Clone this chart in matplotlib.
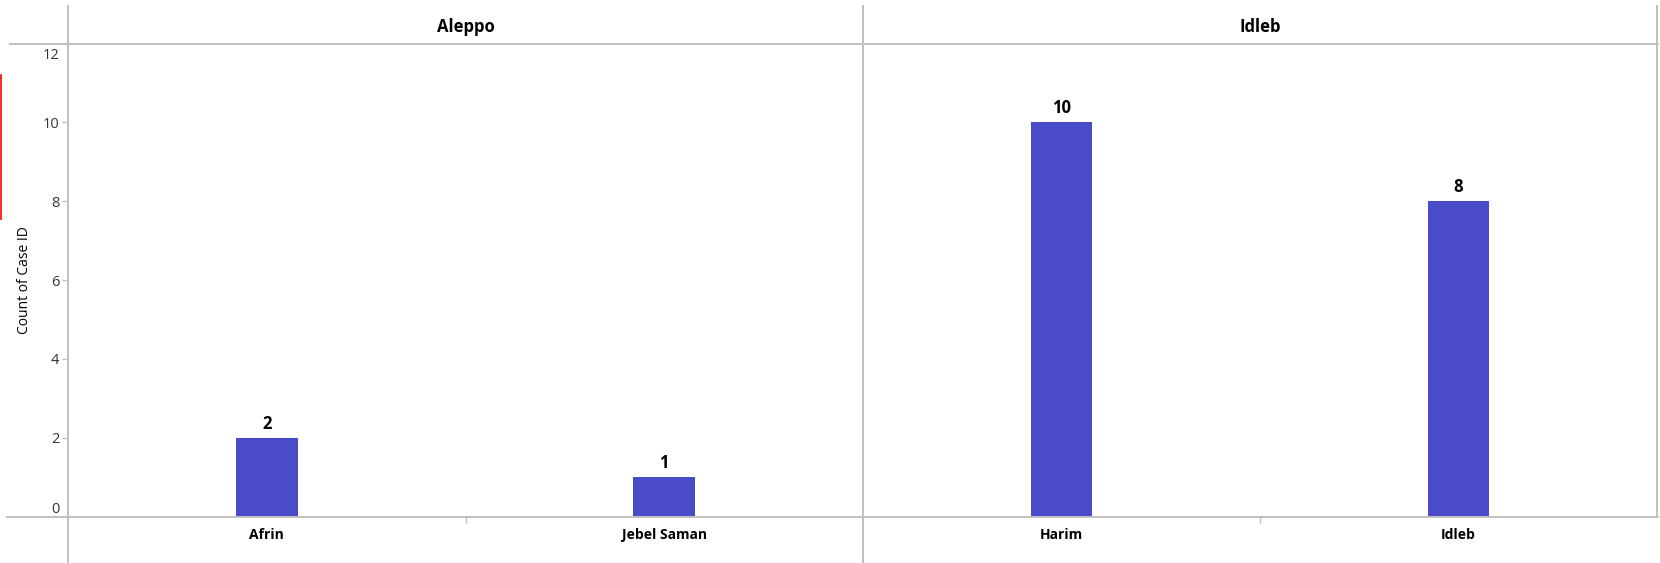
import matplotlib
matplotlib.use("Agg")
import matplotlib.pyplot as plt
from matplotlib.lines import Line2D

plt.rcParams['font.family'] = ['Open Sans', 'DejaVu Sans']

# ---- data ----
regions = ["Aleppo", "Idleb"]
districts = {
    "Aleppo": ["Afrin", "Jebel Saman"],
    "Idleb": ["Harim", "Idleb"],
}
counts = {
    "Aleppo": [2, 1],
    "Idleb": [10, 8],
}
y_ticks = [0, 2, 4, 6, 8, 10, 12]
y_label = "Count of Case ID"

bar_color = "#4A4BC8"
line_color = "#C0C0C0"
W, H = 1660, 563
fig = plt.figure(figsize=(W / 100, H / 100), dpi=100)

def fx(px):
    return px / W

def fy(py):
    return 1 - py / H

left, mid, right = 68, 863, 1657
top, bottom = 43.5, 516.6
panel_edges = [(left, mid), (mid, right)]

axes = []
for i, reg in enumerate(regions):
    x0, x1 = panel_edges[i]
    ax = fig.add_axes([fx(x0), fy(bottom), fx(x1 - x0), fy(top) - fy(bottom)])
    axes.append(ax)
    cats = districts[reg]
    vals = counts[reg]
    xs = list(range(len(cats)))
    bars = ax.bar(xs, vals, width=0.156, color=bar_color, zorder=3)
    for b, v in zip(bars, vals):
        ax.annotate(str(v), (b.get_x() + b.get_width() / 2, v),
                    xytext=(0, 3.5), textcoords="offset points",
                    ha="center", va="bottom", fontsize=12, fontweight="bold")
    ax.set_xlim(-0.5, len(cats) - 0.5)
    ax.set_ylim(0, 12)
    for s in ax.spines.values():
        s.set_visible(False)
    ax.set_xticks(xs)
    ax.set_xticklabels(cats, fontsize=10, fontweight="bold")
    ax.tick_params(axis="x", which="major", length=0, pad=8)
    ax.set_xticks([x + 0.5 for x in xs[:-1]], minor=True)
    ax.tick_params(axis="x", which="minor", length=4.5, color=line_color, width=1)
    ax.text(0.5, 1 + 17 / (bottom - top), reg, transform=ax.transAxes,
            ha="center", va="center", fontsize=12, fontweight="bold")
    if i == 0:
        ax.set_yticks(y_ticks)
        labels = [str(t) for t in y_ticks]
        top_label = labels[-1]
        labels[-1] = ""
        ax.set_yticklabels(labels, fontsize=10.5, color="#333333")
        ax.tick_params(axis="y", length=4.3, color=line_color, width=1, pad=2)
        ax.get_yticklabels()[0].set_va("bottom")
        # top tick label sits just below the header line
        ax.annotate(top_label, xy=(0, y_ticks[-1]), xycoords=("axes fraction", "data"),
                    xytext=(-6.5, -3), textcoords="offset points",
                    ha="right", va="top", fontsize=10.5, color="#333333")
    else:
        ax.set_yticks([])

fig.text(fx(24), fy((top + bottom) / 2), y_label, rotation=90,
         ha="center", va="center", fontsize=10)

# frame lines
lw = 1.4
lines = [
    ((10, 1658), (top, top)),          # top header line
    ((7, 1658), (bottom, bottom)),     # bottom axis line
    ((left, left), (6, 563)),          # left axis line
    ((mid, mid), (6, 563)),            # panel divider
    ((right, right), (6, bottom)),     # right edge
]
for (xa, xb), (ya, yb) in lines:
    fig.add_artist(Line2D([fx(xa), fx(xb)], [fy(ya), fy(yb)],
                          transform=fig.transFigure, color=line_color, lw=lw))

# red marker at left edge
fig.add_artist(Line2D([fx(0.8), fx(0.8)], [fy(75), fy(219)],
                      transform=fig.transFigure, color="red", lw=1.2))

fig.savefig("out.png", dpi=100, facecolor="white")
